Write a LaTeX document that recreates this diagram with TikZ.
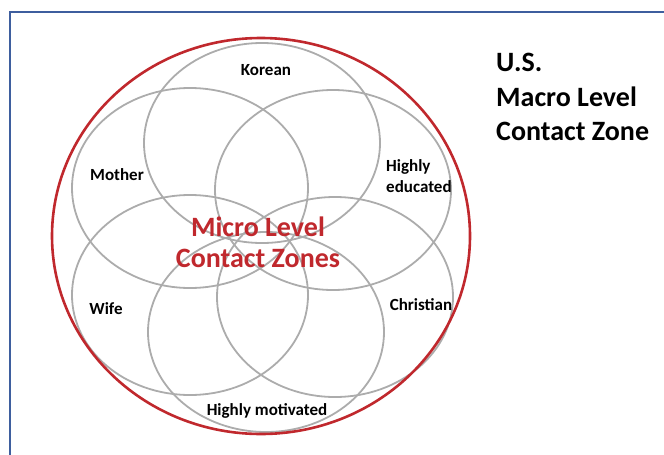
\documentclass[tikz,border=0pt]{standalone}
\usepackage{fontspec}
\setmainfont{Carlito}
\definecolor{zonered}{RGB}{192,40,45}
\definecolor{ringgray}{RGB}{172,172,172}
\definecolor{frameblue}{RGB}{62,94,158}
\begin{document}
\begin{tikzpicture}[x=1pt, y=-1pt, macro/.style={zonered, line width=2.6pt},
micro/.style={ringgray, line width=1.8pt}, frame/.style={frameblue, line width=2pt},
label/.style={font=\bfseries\fontsize{17}{21}\selectfont, inner sep=0pt}]

\useasboundingbox (0,0) rectangle (664,455);
\clip (0,0) rectangle (664,455);

%page frame, open to the right and bottom
\draw[frame] (10,470) -- (10,12) -- (680,12);

%centres of the micro level zones
\pgfmathsetmacro{\rx}{118}
\pgfmathsetmacro{\ry}{100}

\coordinate (US) at (261,236);
\coordinate (K) at (262,143);
\coordinate (M) at (190,188);
\coordinate (E) at (333,190);
\coordinate (W) at (190,295);
\coordinate (C) at (335,297);
\coordinate (H) at (266,332);

\foreach \c in {K,M,E,W,C,H}
  \draw[micro] (\c) ellipse [x radius=\rx, y radius=\ry];
\draw[macro] (US) ellipse [x radius=209, y radius=198];

\node[label] (korean) at (266,70) {Korean};
\node[label] (mother) at (117,175) {Mother};
\node[label, align=left, anchor=west] (educated) at (386,176) {Highly\\educated};
\node[label] (wife) at (106,309) {Wife};
\node[label] (christian) at (421,305) {Christian};
\node[label] (motivated) at (267,411) {Highly motivated};

\node[zonered, font=\bfseries\fontsize{28}{31}\selectfont, align=center, inner sep=0pt] (micro) at (258,242) {Micro Level\\Contact Zones};
\node[font=\bfseries\fontsize{28}{34.5}\selectfont, align=left, anchor=north west, inner sep=0pt] (macro) at (496,53) {U.S.\\Macro Level\\Contact Zone};

\end{tikzpicture}
\end{document}
